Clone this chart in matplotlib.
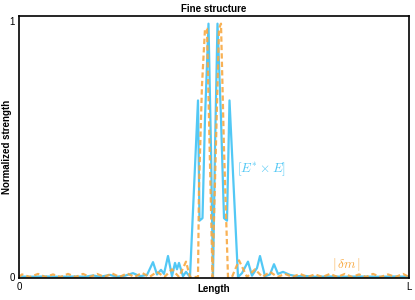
"""Fine structure: normalized |E* x E| and |dm| along the length."""
import matplotlib
matplotlib.use("Agg")
import matplotlib.pyplot as plt

plt.rcParams["font.family"] = ["Liberation Sans", "DejaVu Sans"]
plt.rcParams["mathtext.fontset"] = "cm"

L = 390.0

# [E* x E] (solid blue), positions in units of L/390
x_e = [0, 11, 26, 41, 56, 66, 74, 81, 91, 98, 106, 114, 121, 128, 134, 138,
       142, 145, 149, 153, 156, 158, 160, 164, 167, 171, 179, 180.5, 183.5,
       186, 189.5, 192, 194, 196, 198.5, 202, 205, 208, 210.5, 219, 223, 229,
       233, 238, 241, 246, 251, 255, 259, 264, 271, 278, 286, 296, 311, 326,
       341, 361, 376, 390]
y_e = [0.002, 0.001, 0.002, 0.001, 0.002, 0.001, 0.006, 0.001, 0.008, 0.001,
       0.005, 0.015, 0.003, 0.008, 0.058, 0.010, 0.028, 0.012, 0.082, 0.003,
       0.055, 0.030, 0.055, 0.003, 0.020, 0.0, 0.69, 0.22, 0.23, 0.62, 0.99,
       0.50, 0.0, 0.50, 0.99, 0.62, 0.23, 0.22, 0.69, 0.0, 0.015, 0.060,
       0.005, 0.035, 0.082, 0.003, 0.010, 0.050, 0.012, 0.020, 0.008, 0.003,
       0.004, 0.001, 0.002, 0.001, 0.002, 0.001, 0.002, 0.001]

# |dm| (dashed orange)
x_m = [0, 3, 11, 19, 26.5, 34, 41.5, 49, 56.5, 64, 71, 78, 85.5, 93, 100.5,
       108, 115.5, 123, 130.5, 138, 145.5, 153, 160, 167, 171, 179, 180, 183,
       186, 188, 193.5, 200, 202, 205, 209, 213, 220, 228, 236, 243.5, 251,
       258.5, 266, 273.5, 281, 288.5, 296, 303.5, 311, 318.5, 326, 333, 340,
       347, 354, 361.5, 369, 376.5, 384, 390]
y_m = [0.0, 0.010, 0.0, 0.012, 0.0, 0.010, 0.0, 0.012, 0.0, 0.012, 0.0, 0.012,
       0.0, 0.014, 0.0, 0.014, 0.0, 0.016, 0.0, 0.020, 0.0, 0.030, 0.0, 0.060,
       0.0, 0.0, 0.35, 0.75, 0.97, 0.97, 0.0, 0.97, 0.99, 0.50, 0.0, 0.0,
       0.065, 0.0, 0.030, 0.0, 0.020, 0.0, 0.012, 0.0, 0.012, 0.0, 0.010, 0.0,
       0.012, 0.0, 0.012, 0.0, 0.010, 0.0, 0.012, 0.0, 0.010, 0.0, 0.012, 0.0]

BLUE = "#52C8F5"
ORANGE = "#F8A942"

fig = plt.figure(figsize=(4.15, 3.0), dpi=100)
ax = fig.add_axes([0.0458, 0.0733, 0.9397, 0.8734])

ax.plot(x_e, y_e, color=BLUE, lw=1.6)
ax.plot(x_m, y_m, color=ORANGE, lw=1.6, dashes=(2.4, 1.4), alpha=0.9)

ax.text(243, 0.42, r"$[E^{*}\times E]$", color=BLUE, fontsize=9.5,
        ha="center", va="center")
ax.text(328, 0.05, r"$|\,\delta m\,|$", color=ORANGE, fontsize=9.5,
        ha="center", va="center")

ax.set_xlim(0, L)
ax.set_ylim(-0.004, 1.02)
ax.set_xticks([0, L])
ax.set_xticklabels(["0", "L"])
ax.set_yticks([0, 1])
ax.set_yticklabels(["0", "1"])
ax.tick_params(length=0, labelsize=7, pad=3)
for s in ax.spines.values():
    s.set_linewidth(1.2)

ax.set_xlabel("Length", fontsize=7, fontweight="bold", labelpad=-6)
ax.set_ylabel("Normalized strength", fontsize=7, fontweight="bold", labelpad=-2)
ax.set_title("Fine structure", fontsize=7, fontweight="bold", pad=3)

fig.savefig("out.png", dpi=100)
